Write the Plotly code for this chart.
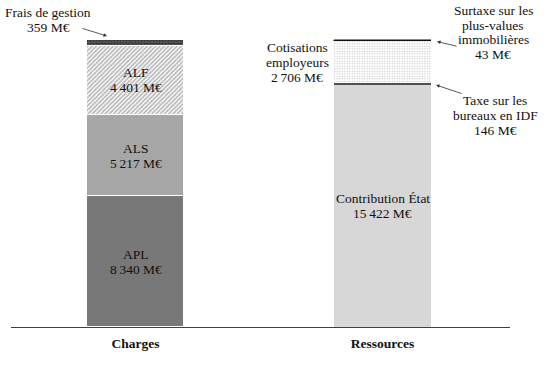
import plotly.graph_objects as go

categories = ["Charges", "Ressources"]

charges_labels = ["APL", "ALS", "ALF", "Frais de gestion"]
charges_values = [8340, 5217, 4401, 359]

ressources_labels = ["Contribution État", "Taxe sur les bureaux en IDF",
                     "Cotisations employeurs", "Surtaxe sur les plus-values immobilières"]
ressources_values = [15422, 146, 2706, 43]

FONT = "Liberation Serif"
FS = 13.5
W, H = 554, 372
ML, MR, MT, MB = 11, 44, 0, 45
PW = W - ML - MR
PH = H - MT - MB
YMAX = 20881
XR = [-0.504, 1.516]
BW = 0.395

def fmt(v):
    return f"{v:,}".replace(",", "\u202f") + "\u00a0M€"

fig = go.Figure()

c_styles = [
    dict(color="#787878"),
    dict(color="#a6a6a6"),
    dict(color="white", pattern=dict(shape="/", fgcolor="#6e6e6e", bgcolor="white", size=3, solidity=0.55)),
    dict(color="#404040", pattern=dict(shape=".", fgcolor="#101010", bgcolor="#555555", size=3, solidity=0.4)),
]
for lab, val, st in zip(charges_labels, charges_values, c_styles):
    m = dict(st)
    m["line"] = dict(color="white", width=1)
    fig.add_bar(x=[0], y=[val], name=lab, width=BW, marker=m, showlegend=False, hoverinfo="skip")

r_styles = [
    dict(color="#d7d7d7", line=dict(color="white", width=0)),
    dict(color="#505050", line=dict(width=0)),
    dict(color="white", pattern=dict(shape=".", fgcolor="#8a8a8a", bgcolor="white", size=2.5, solidity=0.25),
         line=dict(width=0)),
    dict(color="#111111", line=dict(color="#111111", width=0.5)),
]
for lab, val, st in zip(ressources_labels, ressources_values, r_styles):
    fig.add_bar(x=[1], y=[val], name=lab, width=BW, marker=st, showlegend=False, hoverinfo="skip")

# screen pixel -> data (for label placement only)
def sx2x(sx):
    return XR[0] + (sx - ML) / PW * (XR[1] - XR[0])
def sy2y(sy):
    return (H - MB - sy) / PH * YMAX

tf = dict(family=FONT, size=FS, color="#111111")
ann = []

def lines_at(x, yc, lines, step=15):
    n = len(lines)
    for i, t in enumerate(lines):
        ann.append(dict(x=x, y=yc, text=t, showarrow=False, font=tf,
                        yshift=((n - 1) / 2 - i) * step))

# inside labels
cum = 0
for i, (lab, val) in enumerate(zip(charges_labels, charges_values)):
    if i < 3:
        lines_at(0, cum + val / 2, [lab, fmt(val)])
    cum += val

lines_at(1, ressources_values[0] / 2, [ressources_labels[0], fmt(ressources_values[0])])

# outside labels
lines_at(sx2x(48), sy2y(19.5), ["Frais de gestion", fmt(charges_values[3])])
lines_at(sx2x(297), sy2y(62), ["Cotisations", "employeurs", fmt(ressources_values[2])])
lines_at(sx2x(493), sy2y(32.5), ["Surtaxe sur les", "plus-values", "immobilières", fmt(ressources_values[3])], step=14.5)
lines_at(sx2x(495), sy2y(115), ["Taxe sur les", "bureaux en IDF", fmt(ressources_values[1])])

# arrows
arr = dict(showarrow=True, arrowhead=2, arrowsize=0.9, arrowwidth=0.8, arrowcolor="#303030", text="")
ann.append(dict(x=sx2x(107), y=sy2y(36), ax=-26, ay=-8, **arr))
ann.append(dict(x=sx2x(437), y=sy2y(41.5), ax=21, ay=5, **arr))
ann.append(dict(x=sx2x(436), y=sy2y(85), ax=27, ay=9, **arr))

fig.update_layout(
    width=W, height=H,
    margin=dict(l=ML, r=MR, t=MT, b=MB, autoexpand=False),
    barmode="stack", bargap=0,
    paper_bgcolor="white", plot_bgcolor="white",
    font=dict(family=FONT, size=FS, color="#111111"),
    annotations=ann,
    xaxis=dict(range=XR, tickvals=[0, 1], ticktext=[f"<b>{c}</b>" for c in categories],
               showline=True, linecolor="#404040", linewidth=1, showgrid=False, zeroline=False,
               ticks="", tickfont=dict(family=FONT, size=13.5, color="#111111"), ticklabelstandoff=4),
    yaxis=dict(range=[0, YMAX], visible=False, showgrid=False, zeroline=False),
)

fig.write_html("out.html", config={"displayModeBar": False},
               post_script="document.body.style.margin='0';document.body.style.overflow='hidden';")
